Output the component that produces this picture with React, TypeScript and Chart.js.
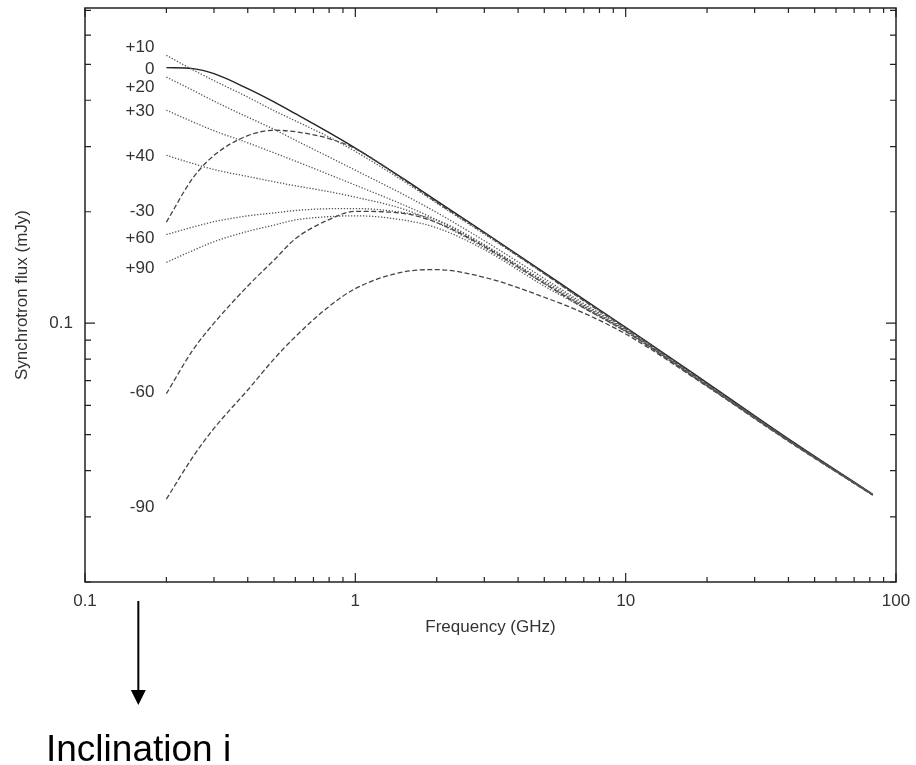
import React, { useEffect, useRef } from 'react';
import { Chart, registerables } from 'chart.js';

Chart.register(...registerables);

// ---- data ----
const FREQ_GHZ = [0.2, 0.25, 0.3, 0.4, 0.5, 0.6, 0.8, 1, 1.5, 2, 3, 5, 7, 10, 20, 40, 82];

const FLUX_I0 = [0.490, 0.487, 0.472, 0.430, 0.396, 0.368, 0.327, 0.297, 0.246, 0.214, 0.176, 0.137, 0.116, 0.0975, 0.069, 0.0487, 0.0345];
const FLUX_P10 = [0.529, 0.484, 0.452, 0.408, 0.375, 0.352, 0.318, 0.291, 0.2425, 0.211, 0.174, 0.136, 0.115, 0.097, 0.0686, 0.0485, 0.0345];
const FLUX_P20 = [0.462, 0.426, 0.398, 0.360, 0.334, 0.312, 0.281, 0.259, 0.223, 0.199, 0.167, 0.132, 0.113, 0.0962, 0.0682, 0.0483, 0.0344];
const FLUX_P30 = [0.376, 0.350, 0.331, 0.307, 0.2885, 0.274, 0.252, 0.236, 0.209, 0.190, 0.162, 0.130, 0.112, 0.0957, 0.0680, 0.0482, 0.0344];
const FLUX_P40 = [0.284, 0.270, 0.260, 0.249, 0.241, 0.235, 0.2265, 0.219, 0.2035, 0.187, 0.160, 0.128, 0.111, 0.0952, 0.0678, 0.0482, 0.0344];
const FLUX_P60 = [0.1735, 0.1817, 0.188, 0.195, 0.1985, 0.2015, 0.2038, 0.204, 0.199, 0.190, 0.163, 0.129, 0.111, 0.0955, 0.0679, 0.0482, 0.0344];
const FLUX_P90 = [0.146, 0.157, 0.166, 0.177, 0.184, 0.190, 0.194, 0.195, 0.190, 0.181, 0.158, 0.126, 0.110, 0.0948, 0.0677, 0.0481, 0.0344];
const FLUX_M30 = [0.1875, 0.246, 0.284, 0.321, 0.332, 0.329, 0.315, 0.296, 0.245, 0.212, 0.175, 0.136, 0.115, 0.0968, 0.0686, 0.0485, 0.0345];
const FLUX_M60 = [0.0645, 0.0844, 0.100, 0.126, 0.148, 0.169, 0.1905, 0.2005, 0.198, 0.187, 0.161, 0.128, 0.110, 0.0950, 0.0677, 0.0481, 0.0344];
const FLUX_M90 = [0.0335, 0.0434, 0.052, 0.066, 0.080, 0.092, 0.111, 0.124, 0.1375, 0.1395, 0.133, 0.1175, 0.1065, 0.0935, 0.0675, 0.0480, 0.0343];

// curve annotations (inclination labels) and the flux level they sit at
const CURVE_LABELS = ['+10', '0', '+20', '+30', '+40', '-30', '+60', '+90', '-60', '-90'];
const CURVE_LABEL_FLUX = [0.557, 0.485, 0.433, 0.374, 0.282, 0.2004, 0.170, 0.1403, 0.0649, 0.0318];

const X_TICKS = [0.1, 0.2, 0.3, 0.4, 0.5, 0.6, 0.7, 0.8, 0.9, 1, 2, 3, 4, 5, 6, 7, 8, 9, 10, 20, 30, 40, 50, 60, 70, 80, 90, 100];
const X_MAJOR = [0.1, 1, 10, 100];
const X_TICK_LABELS = ['0.1', '1', '10', '100'];
const Y_TICKS = [0.02, 0.03, 0.04, 0.05, 0.06, 0.07, 0.08, 0.09, 0.1, 0.2, 0.3, 0.4, 0.5, 0.6, 0.7];
const Y_MAJOR = [0.1];
const Y_TICK_LABELS = ['0.1'];

const ARROW_FREQ = 0.1575;

const FONT = '"Liberation Sans", Arial, Helvetica, sans-serif';
const TEXT = '#333';

type Style = 'solid' | 'dotted' | 'dashed';
const SERIES: { name: string; values: number[]; style: Style }[] = [
  { name: '+10', values: FLUX_P10, style: 'dotted' },
  { name: '+20', values: FLUX_P20, style: 'dotted' },
  { name: '+30', values: FLUX_P30, style: 'dotted' },
  { name: '+40', values: FLUX_P40, style: 'dotted' },
  { name: '+60', values: FLUX_P60, style: 'dotted' },
  { name: '+90', values: FLUX_P90, style: 'dotted' },
  { name: '-30', values: FLUX_M30, style: 'dashed' },
  { name: '-60', values: FLUX_M60, style: 'dashed' },
  { name: '-90', values: FLUX_M90, style: 'dashed' },
  { name: '0', values: FLUX_I0, style: 'solid' },
];

function styleOf(s: Style) {
  if (s === 'solid') return { borderColor: '#222', borderWidth: 1.4, borderDash: [] as number[] };
  if (s === 'dotted') return { borderColor: '#555', borderWidth: 1.3, borderDash: [1.3, 1.7] };
  return { borderColor: '#444', borderWidth: 1.3, borderDash: [5, 2.5] };
}

const framePlugin = {
  id: 'frameAndNotes',
  afterDraw(chart: any) {
    const { ctx, chartArea, scales } = chart;
    const { left, right, top, bottom } = chartArea;
    const x = scales.x;
    const y = scales.y;
    ctx.save();
    // frame
    ctx.strokeStyle = '#222';
    ctx.lineWidth = 1.5;
    ctx.strokeRect(left, top, right - left, bottom - top);
    // inward ticks on all sides
    ctx.lineWidth = 1.2;
    ctx.beginPath();
    for (const v of X_TICKS) {
      const px = x.getPixelForValue(v);
      const len = X_MAJOR.includes(v) ? 9 : 5;
      ctx.moveTo(px, bottom);
      ctx.lineTo(px, bottom - len);
      ctx.moveTo(px, top);
      ctx.lineTo(px, top + len);
    }
    for (const v of Y_TICKS) {
      const py = y.getPixelForValue(v);
      const len = Y_MAJOR.includes(v) ? 10 : 6;
      ctx.moveTo(left, py);
      ctx.lineTo(left + len, py);
      ctx.moveTo(right, py);
      ctx.lineTo(right - len, py);
    }
    ctx.stroke();

    // curve labels
    ctx.fillStyle = TEXT;
    ctx.font = `17px ${FONT}`;
    ctx.textAlign = 'right';
    ctx.textBaseline = 'middle';
    const lx = x.getPixelForValue(FREQ_GHZ[0]) - 12;
    CURVE_LABELS.forEach((t, i) => {
      ctx.fillText(t, lx, y.getPixelForValue(CURVE_LABEL_FLUX[i]));
    });

    // arrow below the axis
    const ax = x.getPixelForValue(ARROW_FREQ);
    const ay0 = bottom + 19;
    const ay1 = bottom + 123;
    ctx.strokeStyle = '#000';
    ctx.fillStyle = '#000';
    ctx.lineWidth = 2;
    ctx.beginPath();
    ctx.moveTo(ax, ay0);
    ctx.lineTo(ax, ay1 - 14);
    ctx.stroke();
    ctx.beginPath();
    ctx.moveTo(ax - 7.5, ay1 - 15);
    ctx.lineTo(ax + 7.5, ay1 - 15);
    ctx.lineTo(ax, ay1);
    ctx.closePath();
    ctx.fill();

    // caption
    ctx.font = `37px ${FONT}`;
    ctx.textAlign = 'left';
    ctx.textBaseline = 'alphabetic';
    ctx.fillText('Inclination i', 46, 761);
    ctx.restore();
  },
};

export default function App() {
  const ref = useRef<HTMLCanvasElement | null>(null);

  useEffect(() => {
    if (!ref.current) return;
    const datasets = SERIES.map((s) => ({
      label: s.name,
      data: FREQ_GHZ.map((f, i) => ({ x: f, y: s.values[i] })),
      ...styleOf(s.style),
      pointRadius: 0,
      fill: false,
      cubicInterpolationMode: 'monotone' as const,
    }));

    const chart = new Chart(ref.current, {
      type: 'line',
      data: { datasets },
      options: {
        responsive: false,
        animation: false,
        events: [],
        layout: { padding: { top: 8, right: 20, left: 0, bottom: 0 } },
        plugins: { legend: { display: false }, tooltip: { enabled: false } },
        scales: {
          x: {
            type: 'logarithmic',
            position: 'bottom',
            min: 0.1,
            max: 100,
            afterBuildTicks: (s: any) => {
              s.ticks = X_TICKS.map((v) => ({ value: v }));
            },
            afterFit: (s: any) => {
              s.height = 183;
              s.paddingLeft = 0;
              s.paddingRight = 0;
            },
            grid: { display: false, drawTicks: false, tickLength: 0 },
            border: { display: false },
            ticks: {
              autoSkip: false,
              maxRotation: 0,
              minRotation: 0,
              padding: 9,
              color: TEXT,
              font: { family: FONT, size: 17 },
              callback: (v: any) => {
                const k = X_MAJOR.indexOf(Number(v));
                return k >= 0 ? X_TICK_LABELS[k] : '';
              },
            },
            title: {
              display: true,
              text: 'Frequency (GHz)',
              color: TEXT,
              font: { family: FONT, size: 17 },
              padding: { top: 0, bottom: 127 },
            },
          },
          y: {
            type: 'logarithmic',
            position: 'left',
            min: 0.02,
            max: 0.71,
            afterBuildTicks: (s: any) => {
              s.ticks = Y_TICKS.map((v) => ({ value: v }));
            },
            afterFit: (s: any) => {
              s.width = 85;
              s.paddingTop = 0;
              s.paddingBottom = 0;
            },
            grid: { display: false, drawTicks: false, tickLength: 0 },
            border: { display: false },
            ticks: {
              autoSkip: false,
              padding: 12,
              color: TEXT,
              font: { family: FONT, size: 17 },
              callback: (v: any) => {
                const k = Y_MAJOR.indexOf(Number(v));
                return k >= 0 ? Y_TICK_LABELS[k] : '';
              },
            },
            title: {
              display: true,
              text: 'Synchrotron flux (mJy)',
              color: TEXT,
              font: { family: FONT, size: 17 },
              padding: { top: 12, bottom: 0 },
            },
          },
        },
      },
      plugins: [framePlugin],
    });
    return () => chart.destroy();
  }, []);

  return (
    <div style={{ position: 'fixed', left: 0, top: 0, width: 916, height: 765, background: '#fff' }}>
      <canvas ref={ref} width={916} height={765} style={{ display: 'block', width: 916, height: 765 }} />
    </div>
  );
}
